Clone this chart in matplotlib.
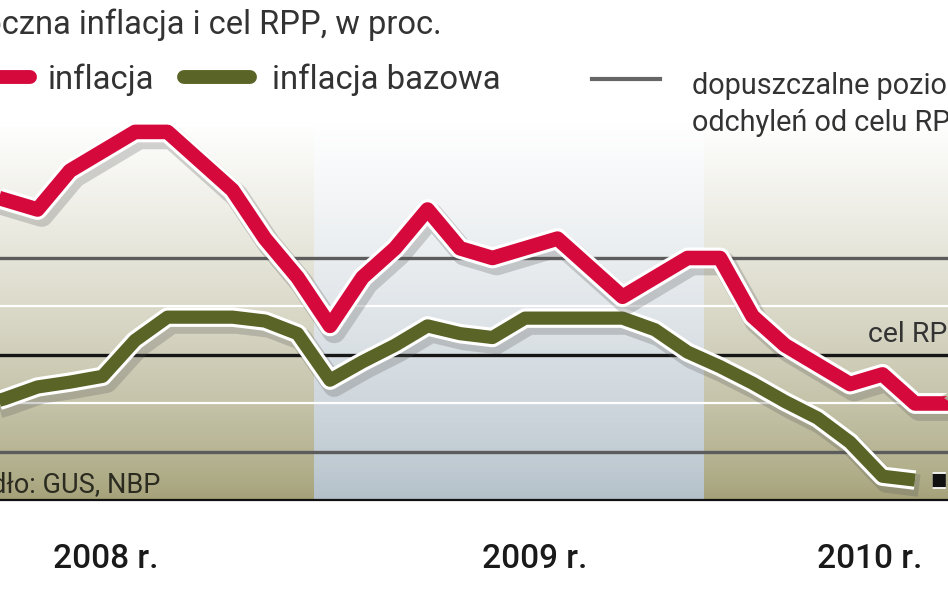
import numpy as np
import matplotlib
matplotlib.use('Agg')
import matplotlib.pyplot as plt
import matplotlib.patheffects as pe
from matplotlib.colors import to_rgb
from matplotlib.lines import Line2D

# miesiace od lutego 2008 (indeks 1 = luty 2008)
months = np.arange(1, 33)
inflacja = [4.2, 4.1, 4.0, 4.4, 4.6, 4.8, 4.8, 4.5, 4.2, 3.7, 3.3,
            2.8, 3.3, 3.6, 4.0, 3.6, 3.5, 3.6, 3.7, 3.4, 3.1, 3.3, 3.5,
            3.5, 2.9, 2.6, 2.4, 2.2, 2.3, 2.0, 2.0, 2.5]
bazowa = [1.95, 2.05, 2.17, 2.22, 2.28, 2.65, 2.89, 2.89, 2.89, 2.85, 2.72,
          2.24, 2.43, 2.6, 2.8, 2.72, 2.68, 2.88, 2.88, 2.88, 2.88, 2.76, 2.53,
          2.38, 2.21, 2.02, 1.85, 1.6, 1.25, 1.21]
bazowa_szac = [1.21, 1.21]          # lipiec -> sierpien 2010, szacunek

cel = 2.5
pasmo = (1.5, 3.5)
siatka = [2.0, 3.0]
dno = 1.0

lata = ['2008 r.', '2009 r.', '2010 r.']
lata_x = [5.1, 18.3, 28.6]
# (start, end, bottom colour) of the year bands
pasy = [(-0.5, 11.5, '#a4a178'), (11.5, 23.5, '#b3c0c9'), (23.5, 35.5, '#a4a178')]

RED = '#d6093d'
OLIVE = '#5a6426'
W, H = 948, 593

fig = plt.figure(figsize=(W / 100, H / 100), dpi=100)
ax = fig.add_axes([0, 0, 1, 1])
ax.set_xlim(1.846, 31.015)
ax.set_ylim(0.046, 6.16)
ax.axis('off')

# gradient background per year
top = 4.9
t = np.linspace(0, 1, 200)[:, None]
for x0, x1, c in pasy:
    c = np.array(to_rgb(c))
    frac = t ** 0.75
    img = (1 - frac) * c + frac * np.ones(3)
    img = np.repeat(img[:, None, :], 2, axis=1)
    ax.imshow(img, extent=(x0, x1, dno, top), origin='lower', aspect='auto',
              interpolation='bilinear', zorder=0)

# horizontal reference lines
for v in siatka:
    ax.axhline(v, color='white', lw=1.6, zorder=1)
for v in pasmo:
    ax.axhline(v, color='#5c5c5c', lw=2.4, zorder=1)
ax.axhline(cel, color='#161616', lw=2.4, zorder=1)
ax.axhline(dno, color='#111111', lw=1.6, zorder=1)

def efekty(w):
    return [pe.SimpleLineShadow(offset=(3, -4), shadow_color='#555555', alpha=0.25,
                                linewidth=w + 2),
            pe.Stroke(linewidth=w, foreground='white'),
            pe.Normal()]

ax.plot(months[:len(bazowa)], bazowa, color=OLIVE, lw=9.5, solid_joinstyle='round',
        solid_capstyle='butt', zorder=3, path_effects=efekty(14))
ax.plot(months[len(bazowa) - 1:len(bazowa) + 1], bazowa_szac, color='#111111', lw=9.5,
        ls=(1.0, (1.0, 1.3)), dash_capstyle='butt', zorder=3,
        path_effects=[pe.Stroke(linewidth=12, foreground='white'), pe.Normal()])
ax.plot(months, inflacja, color=RED, lw=10.5, solid_joinstyle='round',
        solid_capstyle='butt', zorder=4, path_effects=efekty(15))

def px(x, y):
    return x / W, 1 - y / H

FONT = ['Roboto', 'DejaVu Sans']
TXT = '#333333'

fig.text(*px(442, 34), 'Roczna inflacja i cel RPP, w proc.', ha='right', va='baseline',
         fontsize=23.5, color=TXT, family=FONT)

# legend
fig.add_artist(Line2D([-40 / W, 30 / W], [1 - 77 / H] * 2, color=RED, lw=10,
                      solid_capstyle='round'))
fig.text(*px(48, 89), 'inflacja', ha='left', va='baseline', fontsize=23.7,
         color=TXT, family=FONT)
fig.add_artist(Line2D([184 / W, 250 / W], [1 - 77 / H] * 2, color=OLIVE, lw=10,
                      solid_capstyle='round'))
fig.text(*px(272, 89), 'inflacja bazowa', ha='left', va='baseline', fontsize=23.7,
         color=TXT, family=FONT)
fig.add_artist(Line2D([592 / W, 660 / W], [1 - 79 / H] * 2, color='#666666', lw=3))
fig.text(*px(692, 94), 'dopuszczalne poziomy', ha='left', va='baseline', fontsize=20.8,
         color=TXT, family=FONT)
fig.text(*px(692, 131), 'odchyleń od celu RPP', ha='left', va='baseline', fontsize=20.8,
         color=TXT, family=FONT)

fig.text(*px(868, 342), 'cel RPP', ha='left', va='baseline', fontsize=20.5,
         color=TXT, family=FONT, zorder=5)
fig.text(*px(160, 492), 'Źródło: GUS, NBP', ha='right', va='baseline', fontsize=19.5,
         color='#2b2b20', family=FONT)

for lab, x in zip(lata, lata_x):
    ax.text(x, 0.3, lab, ha='center', va='baseline', fontsize=24, fontweight='medium',
            color='#1a1a1a', family=FONT)

fig.savefig('out.png', dpi=100)
